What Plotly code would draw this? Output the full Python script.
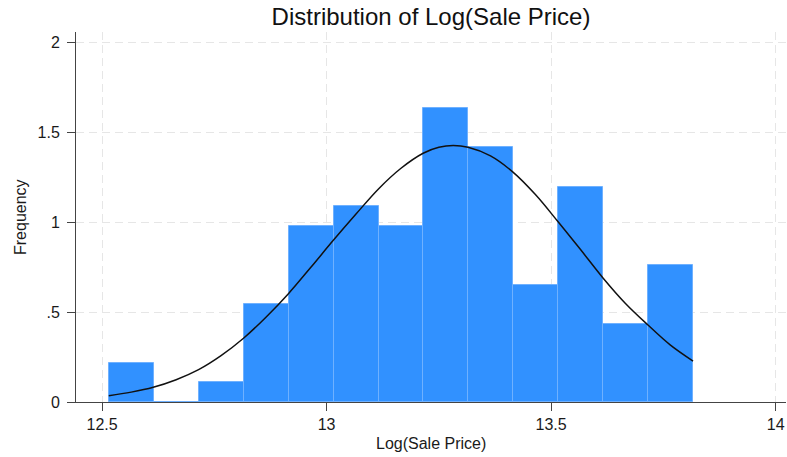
import plotly.graph_objects as go

# ---- data ----
bin_start = 12.515
bin_width = 0.1001
densities = [0.218, 0.0, 0.109, 0.545, 0.981, 1.09, 0.981, 1.635, 1.417, 0.654, 1.199, 0.436, 0.763]

curve_x = [12.515, 12.565, 12.614, 12.665, 12.715, 12.765, 12.815, 12.865, 12.915, 12.965, 13.015,
           13.065, 13.115, 13.165, 13.215, 13.250, 13.282, 13.315, 13.365, 13.415, 13.465,
           13.515, 13.565, 13.615, 13.665, 13.715, 13.765, 13.816]
curve_y = [0.035, 0.055, 0.082, 0.124, 0.180, 0.258, 0.355, 0.472, 0.603, 0.750, 0.900,
           1.045, 1.185, 1.300, 1.385, 1.418, 1.428, 1.418, 1.370, 1.280, 1.155,
           1.005, 0.850, 0.692, 0.550, 0.430, 0.318, 0.228]

x_ticks = [12.5, 13, 13.5, 14]
x_tick_text = ["12.5", "13", "13.5", "14"]
y_ticks = [0, 0.5, 1, 1.5, 2]
y_tick_text = ["0", ".5", "1", "1.5", "2"]

title_text = "Distribution of Log(Sale Price)"
x_title = "Log(Sale Price)"
y_title = "Frequency"

centers = [bin_start + bin_width * (i + 0.5) for i in range(len(densities))]

FONT = "Liberation Sans, Arial, sans-serif"
W, H = 787, 457
L, R, T, B = 76, 1, 32, 55

fig = go.Figure()
fig.add_trace(go.Bar(
    x=centers, y=densities, width=bin_width,
    marker=dict(color="#3191ff", line=dict(color="#6fb1ff", width=1)),
    showlegend=False, hoverinfo="x+y",
))
fig.add_trace(go.Scatter(
    x=curve_x, y=curve_y, mode="lines",
    line=dict(color="#111111", width=1.5, shape="spline", smoothing=1.0),
    showlegend=False,
))

pw, ph = W - L - R, H - T - B
fig.update_layout(
    width=W, height=H,
    margin=dict(l=L, r=R, t=T, b=B, autoexpand=False),
    paper_bgcolor="white", plot_bgcolor="white",
    bargap=0,
    font=dict(family=FONT, size=16, color="#1a1a1a"),
    title=dict(text=title_text, x=(L + W - R) / 2 / W, xanchor="center",
               y=1 - 17 / H, yanchor="middle", yref="container",
               font=dict(family=FONT, size=24, color="#111111")),
    annotations=[
        dict(text=x_title, xref="paper", yref="paper",
             x=0.5, y=-(443 - (H - B)) / ph, xanchor="center", yanchor="middle",
             showarrow=False, font=dict(family=FONT, size=16, color="#1a1a1a")),
        dict(text=y_title, xref="paper", yref="paper", textangle=-90,
             x=-(L - 20) / pw, y=0.5, xanchor="center", yanchor="middle",
             showarrow=False, font=dict(family=FONT, size=16, color="#1a1a1a")),
    ],
)
fig.update_xaxes(
    range=[12.442, 14.023], tickvals=x_ticks, ticktext=x_tick_text,
    showgrid=True, gridcolor="#e6e6e6", griddash="8px,5px", gridwidth=1,
    showline=True, linecolor="#444444", linewidth=1,
    ticks="outside", ticklen=8, tickcolor="#444444",
    zeroline=False, automargin=False, ticklabeloverflow="allow",
    tickfont=dict(family=FONT, size=16, color="#1a1a1a"),
)
fig.update_yaxes(
    range=[0, 2.06], tickvals=y_ticks, ticktext=y_tick_text,
    showgrid=True, gridcolor="#e6e6e6", griddash="8px,5px", gridwidth=1,
    showline=True, linecolor="#444444", linewidth=1,
    ticks="outside", ticklen=8, tickcolor="#444444", ticklabelstandoff=4,
    zeroline=False, automargin=False,
    tickfont=dict(family=FONT, size=16, color="#1a1a1a"),
)

fig.write_html("out.html", config={"displayModeBar": False},
               post_script="document.body.style.margin='0';document.body.style.overflow='hidden';")
